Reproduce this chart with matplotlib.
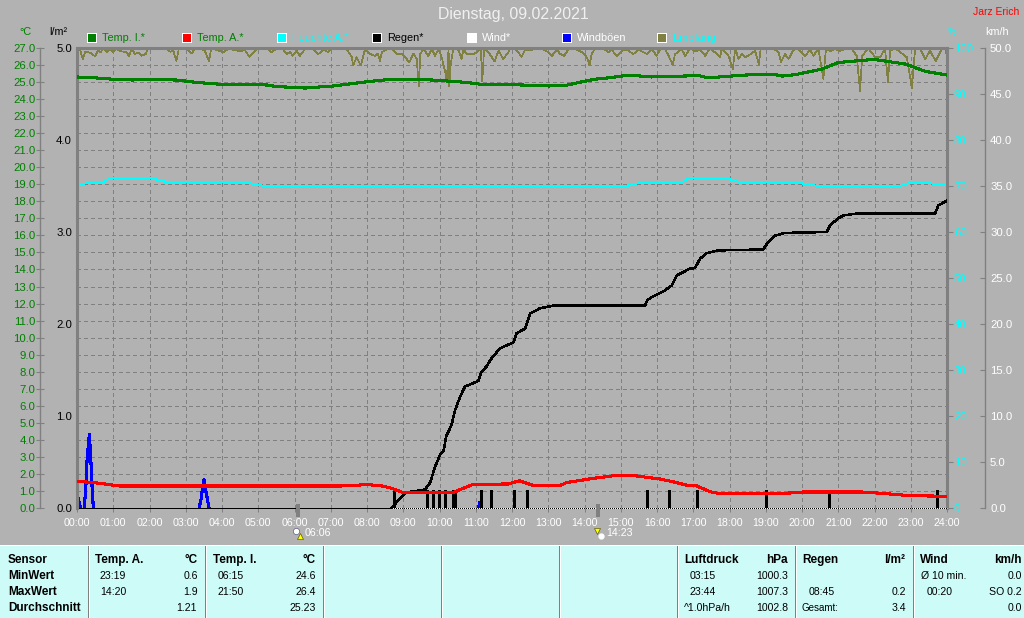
import matplotlib
matplotlib.use("Agg")
import matplotlib.pyplot as plt
from matplotlib.lines import Line2D
from matplotlib.patches import Rectangle

plt.rcParams['font.family'] = ['Liberation Sans', 'DejaVu Sans']
plt.rcParams['lines.antialiased'] = False

# Temp. I. (°C)
temp_i_h = [0, 0.63, 1.1, 1.55, 1.74, 2.75, 3.3, 4.1, 5.24, 5.5, 6.29, 7.06, 8, 8.7, 9.4, 10.1, 10.75, 11.1, 12,
            13.02, 13.47, 13.85, 14.3, 14.76, 15.2, 15.86, 17.15, 17.4, 18.4, 19.18, 19.45, 19.8, 20.55, 21.0,
            21.98, 22.4, 22.85, 23.4, 24]
temp_i = [25.3, 25.23, 25.15, 25.12, 25.17, 25.12, 24.98, 24.85, 24.83, 24.74, 24.65, 24.77, 25.02, 25.17, 25.17,
          25.08, 24.98, 24.88, 24.85, 24.77, 24.8, 24.98, 25.17, 25.27, 25.41, 25.3, 25.38, 25.25, 25.41, 25.47,
          25.35, 25.43, 25.76, 26.15, 26.33, 26.2, 26.06, 25.63, 25.41]

# Temp. A. (°C)
temp_a_h = [0, 0.22, 0.63, 0.9, 1.18, 7.25, 8, 8.36, 8.63, 9.0, 10.37, 10.5, 10.93, 11.9, 12.2, 12.58, 13.32, 13.5,
            14.24, 14.9, 15.44, 16.08, 16.36, 16.8, 17.1, 17.46, 17.74, 19.4, 20.03, 21.65, 22.34, 22.98, 23.7, 24]
temp_a = [1.58, 1.53, 1.45, 1.37, 1.29, 1.29, 1.37, 1.32, 1.19, 0.9, 0.9, 1.02, 1.39, 1.41, 1.6, 1.33, 1.31, 1.49,
          1.74, 1.92, 1.88, 1.7, 1.58, 1.35, 1.29, 0.96, 0.84, 0.84, 0.94, 0.94, 0.84, 0.72, 0.7, 0.7]

# Feuchte A. (%)
feuchte_h = [0, 0.17, 0.4, 0.7, 0.82, 1.14, 2.06, 2.24, 2.43, 4.68, 4.87, 5.23, 15.16, 15.3, 15.53, 16.04, 16.08,
             16.72, 16.82, 17.1, 17.92, 18.06, 18.25, 19.85, 20.03, 20.45, 22.7, 22.88, 23.03, 23.53, 23.67, 24]
feuchte = [70, 70.5, 70.7, 70.7, 71.4, 71.8, 71.8, 71.3, 70.95, 70.95, 70.3, 70, 70, 70.3, 70.7, 70.7, 70.95,
           70.95, 71.5, 71.8, 71.8, 71.3, 70.95, 70.95, 70.5, 70, 70, 70.5, 70.7, 70.7, 70.3, 70.3]

# Regen Summe (l/m²)
regen_h = [0, 8.68, 8.87, 9.09, 9.6, 9.74, 9.88, 10.01, 10.12, 10.18, 10.33, 10.43, 10.57, 10.7, 11.07, 11.16, 11.3,
           11.44, 11.67, 12.04, 12.13, 12.36, 12.5, 12.77, 13.14, 15.67, 15.73, 15.85, 16.2, 16.41, 16.55, 16.9,
           17.05, 17.19, 17.37, 17.69, 18.93, 19.03, 19.26, 19.53, 20.68, 20.77, 21.0, 21.14, 21.5, 23.67, 23.76,
           24]
regen = [0, 0, 0.087, 0.17, 0.2, 0.275, 0.45, 0.576, 0.63, 0.775, 0.9, 1.065, 1.21, 1.32, 1.38, 1.48, 1.54, 1.63,
         1.735, 1.8, 1.9, 1.95, 2.115, 2.17, 2.2, 2.2, 2.26, 2.29, 2.36, 2.42, 2.53, 2.6, 2.61, 2.71, 2.77, 2.8,
         2.81, 2.87, 2.96, 2.99, 3.0, 3.07, 3.15, 3.18, 3.2, 3.2, 3.29, 3.34]

# Regen Ereignisse, je 0.2 l/m²
regen_bars_h = [8.75, 9.66, 9.82, 9.99, 10.16, 10.36, 10.43, 11.15, 11.43, 12.05, 12.42, 15.73, 16.33, 17.09,
                19.02, 20.75, 23.73]
regen_bars = [0.2] * 17

# Windböen (km/h), drei Spitzen
boen1_h = [0, 0.05, 0.1]
boen1 = [1.6, 0.8, 0]
boen2_h = [0.2, 0.25, 0.28, 0.34, 0.38, 0.41, 0.45]
boen2 = [0, 2.7, 5.4, 8.0, 5.4, 2.7, 0]
boen3_h = [3.37, 3.42, 3.46, 3.5, 3.54, 3.6, 3.64]
boen3 = [0, 0.9, 2.1, 3.1, 2.1, 0.9, 0]
boen4_h = [11.07, 11.1]
boen4 = [0, 0.6]

# Empfang (%)
empfang_h = [0, .08, .16, .22, .31, .38, .50, .59, .65, .73, .82, .91, 1.0, 1.09, 1.19, 1.37, 1.43, 1.51, 1.60, 1.69,
             1.78, 1.90, 1.94, 2.06, 2.47, 2.57, 2.66, 2.74, 2.81, 3.03, 3.16, 3.26, 3.44, 3.53, 3.64, 3.70, 3.85,
             4.04, 4.17, 4.31, 4.50, 4.63, 4.75, 4.91, 5.00, 5.23, 5.37, 5.51, 5.69, 5.78, 5.88, 5.95, 6.06, 6.15,
             6.29, 6.52, 6.66, 6.80, 6.93, 7.03, 7.44, 7.58, 7.62, 7.71, 7.83, 7.94,
             8.09, 8.22, 8.29, 8.36, 8.41, 8.59, 8.68, 8.82, 8.96, 9.05, 9.17, 9.28, 9.37, 9.43, 9.47, 9.56, 9.69,
             9.79, 9.88, 9.97, 10.06, 10.15, 10.20, 10.25, 10.27, 10.31, 10.38, 10.52, 10.61, 10.66, 10.75, 10.94,
             11.07, 11.14, 11.18, 11.23, 11.35, 11.52, 11.63, 11.76, 11.90, 11.95, 12.09, 12.27, 12.36, 12.55,
             12.64, 12.82, 13.01, 13.10, 13.24, 13.33, 13.44, 13.56, 13.74, 13.93, 14.06, 14.14, 14.20, 14.29,
             14.52, 14.66, 14.75, 14.89, 15.03, 15.17, 15.35, 15.49, 15.72, 15.86, 15.99, 16.09,
             16.22, 16.32, 16.43, 16.50, 16.59, 16.66, 16.78, 16.91, 17.05, 17.19, 17.33, 17.45, 17.56, 17.74,
             17.79, 17.97, 18.09, 18.16, 18.25, 18.34, 18.43, 18.57, 18.71, 18.81, 18.86, 19.03, 19.21, 19.35,
             19.42, 19.53, 19.63, 19.76, 19.90, 20.09, 20.22, 20.32, 20.45, 20.59, 20.66, 20.78, 20.91, 21.05,
             21.19, 21.37, 21.51, 21.60, 21.66, 21.83, 22.02, 22.16, 22.29, 22.37, 22.43, 22.57, 22.71, 22.89,
             23.03, 23.12, 23.26, 23.40, 23.53, 23.69, 23.86, 23.95, 24.0]
empfang = [100, 99.8, 97.5, 99.1, 99.1, 98.9, 98.2, 99.6, 99.1, 99.9, 99.1, 99.9, 99.1, 99.9, 99.3, 99.1, 98.2, 99.8,
           98.7, 99.0, 98.3, 98.7, 99.9, 99.9, 99.9, 99.2, 99.4, 97.2, 99.8, 99.8, 98.8, 99.9, 99.9, 99.3, 97.1,
           99.9, 99.6, 99.1, 99.8, 99.6, 99.3, 99.6, 98.1, 99.4, 99.9, 99.9, 99.1, 99.9, 99.7, 98.7, 99.1, 98.3,
           99.4, 98.3, 99.8, 99.8, 98.7, 99.6, 99.1, 99.9, 99.8, 98.0, 96.2, 98.0, 96.2, 99.6,
           98.7, 98.3, 98.8, 97.2, 99.1, 99.8, 99.8, 98.7, 98.8, 98.0, 96.9, 98.8, 97.6, 91.6, 98.7, 99.8, 98.3,
           99.8, 98.3, 99.8, 98.0, 95.1, 92.9, 99.8, 91.6, 96.5, 99.8, 99.6, 97.6, 99.8, 98.7, 98.6, 99.4, 99.8,
           92.8, 99.8, 99.1, 97.1, 99.4, 97.6, 99.1, 99.8, 99.8, 98.1, 99.6, 99.6, 99.8, 99.8, 99.1, 98.3, 99.6,
           98.7, 98.3, 99.8, 99.8, 99.1, 98.0, 96.4, 98.7, 99.9, 99.9, 99.1, 99.6, 98.3, 99.4, 99.6, 98.7, 99.6,
           98.7, 99.8, 98.3, 99.8,
           99.8, 98.3, 96.4, 98.7, 99.1, 99.9, 98.3, 99.9, 99.3, 99.6, 98.3, 99.9, 99.3, 98.1, 99.9, 98.3, 95.4,
           99.9, 97.6, 98.7, 98.0, 98.6, 99.4, 96.4, 99.9, 99.9, 99.9, 99.1, 96.9, 98.7, 97.6, 99.6, 99.8, 98.3,
           99.6, 98.3, 99.9, 93.3, 99.8, 99.3, 99.8, 99.4, 99.8, 99.8, 98.3, 90.7, 98.3, 99.9, 98.0, 98.0, 99.9,
           92.5, 99.4, 99.9, 99.1, 98.0, 91.3, 99.8, 99.8, 97.6, 99.4, 97.2, 99.8, 99.9, 98.3]

hour_labels = ['%02d:00' % h for h in range(25)]
temp_ticks = list(range(0, 28))
rain_ticks = [0, 1, 2, 3, 4, 5]
hum_ticks = list(range(0, 101, 10))
wind_ticks = list(range(0, 51, 5))
sun_times = [6.1, 14.38]

legend_names = ['Temp. I.*', 'Temp. A.*', 'Feuchte A.*', 'Regen*', 'Wind*', 'Windböen', 'Empfang']
legend_colors = ['#008000', '#ff0000', '#00ffff', '#000000', '#ffffff', '#0000ff', '#808040']
legend_text = ['#008000', '#008000', '#00ffff', '#000000', '#ffffff', '#ffffff', '#00ffff']

BG = '#b2b2b2'
GRAY = '#808080'
TABLE = '#ccfbf8'

fig = plt.figure(figsize=(10.24, 6.18), dpi=100, facecolor=BG)


def fx(x):
    return x / 1024


def fy(y):
    return 1 - y / 618


def txt(x, y, s, color='k', ha='left', size=7.6, bold=False):
    fig.text(fx(x), fy(y), s, color=color, ha=ha, va='center', fontsize=size,
             fontweight='bold' if bold else 'normal')


def box(x, y, w, h, color, z=1):
    fig.patches.append(Rectangle((fx(x), fy(y + h)), w / 1024, h / 618, transform=fig.transFigure, facecolor=color,
                                 edgecolor='none', antialiased=False, figure=fig, zorder=z))


pos = [fx(77), fy(508), fx(947) - fx(77), fy(48) - fy(508)]

# Gitter
ax_grid = fig.add_axes(pos, zorder=0, facecolor=BG)
ax_grid.set_xlim(0, 24)
ax_grid.set_ylim(0, 27)
ax_grid.set_xticks(range(1, 24))
ax_grid.set_yticks(temp_ticks[1:-1])
ax_grid.tick_params(length=0, labelbottom=False, labelleft=False)
ax_grid.grid(True, color=GRAY, lw=0.72, ls=(0, (4, 3)))
for s in ax_grid.spines.values():
    s.set_visible(False)

# Feuchte + Empfang
ax_hum = fig.add_axes(pos, zorder=1, facecolor='none')
ax_hum.set_xlim(0, 24)
ax_hum.set_ylim(0, 100)
ax_hum.plot(empfang_h, empfang, color='#808040', lw=0.5)
ax_hum.plot(feuchte_h, feuchte, color='#00ffff', lw=0.6)
ax_hum.yaxis.tick_right()
ax_hum.set_yticks(hum_ticks)
ax_hum.tick_params(axis='y', colors=GRAY, labelcolor='#00ffff', labelsize=8.2, length=4, width=0.8, pad=1)
ax_hum.set_xticks([])
for n in ['left', 'top', 'bottom']:
    ax_hum.spines[n].set_visible(False)
ax_hum.spines['right'].set_color(GRAY)
ax_hum.spines['right'].set_linewidth(2.2)

# Wind
ax_wind = fig.add_axes(pos, zorder=2, facecolor='none')
ax_wind.set_xlim(0, 24)
ax_wind.set_ylim(0, 50)
ax_wind.plot([8.7, 24], [0, 0], color='white', lw=0.72, clip_on=False)
ax_wind.plot(boen1_h, boen1, color='#0000ff', lw=1.5)
ax_wind.plot(boen2_h, boen2, color='#0000ff', lw=1.5)
ax_wind.plot(boen3_h, boen3, color='#0000ff', lw=1.5)
ax_wind.plot(boen4_h, boen4, color='#0000ff', lw=1.0)
ax_wind.yaxis.tick_right()
ax_wind.set_yticks(wind_ticks)
ax_wind.set_yticklabels(['%.1f' % v for v in wind_ticks])
ax_wind.tick_params(axis='y', direction='in', colors=GRAY, labelcolor='white', labelsize=8.2, length=3.6,
                    width=0.8, pad=3.6)
ax_wind.set_xticks([])
for n in ['left', 'top', 'bottom']:
    ax_wind.spines[n].set_visible(False)
ax_wind.spines['right'].set_position(('outward', 27.4))
ax_wind.spines['right'].set_color(GRAY)
ax_wind.spines['right'].set_linewidth(1.0)

# Regen
ax_rain = fig.add_axes(pos, zorder=3, facecolor='none')
ax_rain.set_xlim(0, 24)
ax_rain.set_ylim(0, 5)
ax_rain.vlines(regen_bars_h, 0, regen_bars, color='black', lw=2.1, antialiased=False)
ax_rain.plot(regen_h[:2], regen[:2], color='black', lw=0.5, clip_on=False)
ax_rain.plot(regen_h[1:], regen[1:], color='black', lw=1.1)
ax_rain.plot([8.7, 24], [0, 0], color='black', lw=0.72, ls=(0, (1, 2)), clip_on=False)
ax_rain.set_yticks(rain_ticks)
ax_rain.set_yticklabels(['%.1f' % v for v in rain_ticks])
ax_rain.tick_params(axis='y', length=0, labelsize=8.2, labelcolor='black', pad=3.6)
ax_rain.set_xticks(range(25))
ax_rain.set_xticklabels(hour_labels)
ax_rain.tick_params(axis='x', length=3, width=0.72, color=GRAY, labelcolor='white', labelsize=7.7, pad=4.0)
ax_rain.vlines(sun_times, -0.0196, 0.0087, color=GRAY, lw=1.5, clip_on=False, transform=ax_rain.get_xaxis_transform())
for n in ['right', 'bottom']:
    ax_rain.spines[n].set_visible(False)
for n in ['left', 'top']:
    ax_rain.spines[n].set_color(GRAY)
    ax_rain.spines[n].set_linewidth(2.2)

# Temperaturen
ax_temp = fig.add_axes(pos, zorder=4, facecolor='none')
ax_temp.set_xlim(0, 24)
ax_temp.set_ylim(0, 27)
ax_temp.plot(temp_i_h, temp_i, color='#008000', lw=1.5)
ax_temp.plot(temp_a_h, temp_a, color='#ff0000', lw=1.5)
ax_temp.set_yticks(temp_ticks)
ax_temp.set_yticklabels(['%.1f' % v for v in temp_ticks])
ax_temp.tick_params(axis='y', direction='inout', colors=GRAY, labelcolor='#008000', labelsize=8.2, length=5.8,
                    width=0.8, pad=0.6)
ax_temp.set_xticks([])
for n in ['right', 'top', 'bottom']:
    ax_temp.spines[n].set_visible(False)
ax_temp.spines['left'].set_position(('outward', 26.6))
ax_temp.spines['left'].set_color(GRAY)
ax_temp.spines['left'].set_linewidth(1.0)

# Kopf
txt(513, 15, 'Dienstag, 09.02.2021', color='#f0f0f0', ha='center', size=11.4)
txt(973, 12, 'Jarz Erich', color='#ff0000', size=7.5)
txt(25, 32, '°C', color='#008000', ha='center', size=7.8)
txt(58, 32, 'l/m²', color='black', ha='center', size=7.8)
txt(951, 32, '%', color='#00ffff', ha='center', size=7.8)
txt(997, 32, 'km/h', color='white', ha='center', size=7.8)

for i, name in enumerate(legend_names):
    x0 = 87 + 95 * i
    box(x0, 33, 10, 10, 'white')
    box(x0 + 1, 34, 8, 8, legend_colors[i], z=2)
    txt(x0 + 15, 38, name, color=legend_text[i], size=7.8)

# Sonnenauf- und -untergang
fig.add_artist(Line2D([fx(296)], [fy(531)], marker='o', ms=4.5, color='white', mec='#404080', mew=0.4, ls='none',
                      transform=fig.transFigure))
fig.add_artist(Line2D([fx(300)], [fy(536)], marker='^', ms=4.5, color='#ffff00', mec='#404000', mew=0.4, ls='none',
                      transform=fig.transFigure))
txt(305, 533, '06:06', color='white', size=7.7)
fig.add_artist(Line2D([fx(597)], [fy(531)], marker='v', ms=4.5, color='#ffff00', mec='#404000', mew=0.4, ls='none',
                      transform=fig.transFigure))
fig.add_artist(Line2D([fx(601)], [fy(536)], marker='o', ms=3.5, color='white', mec='white', ls='none',
                      transform=fig.transFigure))
txt(606, 533, '14:23', color='white', size=7.7)

# Tabelle
box(0, 545, 1024, 73, TABLE, z=-1)
box(0, 545, 1024, 1, 'white')
for xd in [88, 205, 323, 441, 559, 677, 795, 913]:
    box(xd, 546, 1, 72, GRAY)
    box(xd + 1, 546, 1, 72, 'white')

rows = [560, 576, 592, 608]
for y, s in zip(rows, ['Sensor', 'MinWert', 'MaxWert', 'Durchschnitt']):
    txt(8, y, s, bold=True, size=8.5)

txt(95, rows[0], 'Temp. A.', bold=True, size=8.5)
txt(198, rows[0], '°C', ha='right', bold=True, size=8.5)
txt(100, rows[1], '23:19')
txt(198, rows[1], '0.6', ha='right')
txt(100, rows[2], '14:20')
txt(198, rows[2], '1.9', ha='right')
txt(197, rows[3], '1.21', ha='right')

txt(213, rows[0], 'Temp. I.', bold=True, size=8.5)
txt(316, rows[0], '°C', ha='right', bold=True, size=8.5)
txt(218, rows[1], '06:15')
txt(316, rows[1], '24.6', ha='right')
txt(218, rows[2], '21:50')
txt(316, rows[2], '26.4', ha='right')
txt(316, rows[3], '25.23', ha='right')

txt(684, rows[0], 'Luftdruck', bold=True, size=8.5)
txt(788, rows[0], 'hPa', ha='right', bold=True, size=8.5)
txt(690, rows[1], '03:15')
txt(788, rows[1], '1000.3', ha='right')
txt(690, rows[2], '23:44')
txt(788, rows[2], '1007.3', ha='right')
txt(684, rows[3], '^1.0hPa/h')
txt(788, rows[3], '1002.8', ha='right')

txt(802, rows[0], 'Regen', bold=True, size=8.5)
txt(905, rows[0], 'l/m²', ha='right', bold=True, size=8.5)
txt(809, rows[2], '08:45')
txt(906, rows[2], '0.2', ha='right')
txt(802, rows[3], 'Gesamt:', size=7)
txt(906, rows[3], '3.4', ha='right')

txt(920, rows[0], 'Wind', bold=True, size=8.5)
txt(1022, rows[0], 'km/h', ha='right', bold=True, size=8.5)
txt(921, rows[1], 'Ø 10 min.')
txt(1022, rows[1], '0.0', ha='right')
txt(927, rows[2], '00:20')
txt(1022, rows[2], 'SO 0.2', ha='right')
txt(1022, rows[3], '0.0', ha='right')

fig.savefig('out.png', dpi=100, facecolor=BG)
